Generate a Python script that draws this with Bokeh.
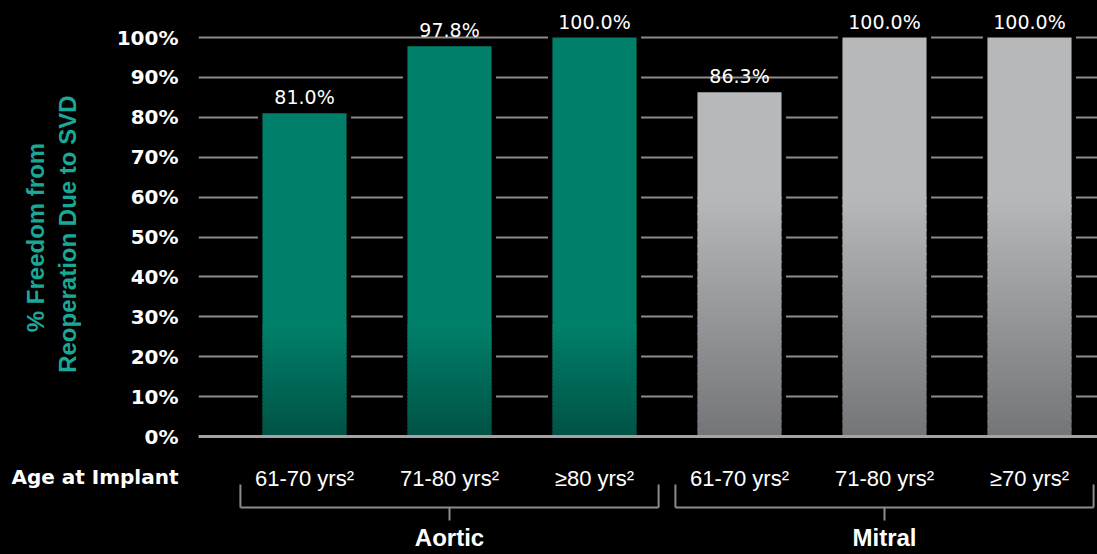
from bokeh.plotting import figure
from bokeh.models import Range1d, FixedTicker, PrintfTickFormatter, Span
from bokeh.core.properties import value
from bokeh.embed import file_html
from bokeh.resources import INLINE

# ---------------- data ----------------
groups = ["Aortic", "Mitral"]
bar_group = ["Aortic", "Aortic", "Aortic", "Mitral", "Mitral", "Mitral"]
age_labels = ["61-70 yrs²", "71-80 yrs²", "≥80 yrs²", "61-70 yrs²", "71-80 yrs²", "≥70 yrs²"]
freedom = [81.0, 97.8, 100.0, 86.3, 100.0, 100.0]
value_labels = ["81.0%", "97.8%", "100.0%", "86.3%", "100.0%", "100.0%"]
y_ticks = [0, 10, 20, 30, 40, 50, 60, 70, 80, 90, 100]
y_title = ["% Freedom from", "Reoperation Due to SVD"]
x_title = "Age at Implant"

# ---------------- layout helpers (canvas pixels -> data units) ----------------
PX_X, X0 = 145.0, 304.0      # px per category, x of first bar centre
PX_Y, Y0 = 3.99, 436.0       # px per percent, y of 0%
def dx(px):
    return (px - X0) / PX_X
def dy(py):
    return (Y0 - py) / PX_Y

W, H = 1097, 554
LEFT = 198
AGE_Y = -10.25               # row of the "Age at Implant" caption
NB = "\u00a0"                # non-breaking pad that lifts the centred axis title

p = figure(width=W, height=H, output_backend="svg", toolbar_location=None,
           x_range=Range1d(dx(LEFT), dx(W)),
           y_range=Range1d(dy(H), dy(0)),
           x_axis_location=None,
           background_fill_color="black", border_fill_color="black",
           min_border_left=LEFT, min_border_right=0, min_border_top=0, min_border_bottom=0)
p.outline_line_color = None
p.styles = {"background-color": "black"}

ax = p.yaxis[0]
ax.ticker = FixedTicker(ticks=y_ticks + [AGE_Y])
ax.formatter = PrintfTickFormatter(format="%d%%")
ax.major_label_overrides = {AGE_Y: x_title}
ax.axis_line_color = None
ax.major_tick_line_color = None
ax.minor_tick_line_color = None
ax.major_tick_out = 0
ax.major_tick_in = 0
ax.major_label_standoff = 20
ax.major_label_text_font = "DejaVu Sans"
ax.major_label_text_font_style = "bold"
ax.major_label_text_font_size = "20px"
ax.major_label_text_color = "white"
ax.axis_label = NB * 12 + y_title[0] + "\n" + NB * 13 + y_title[1]
ax.axis_label_text_font = "Liberation Sans"
ax.axis_label_text_font_style = "bold"
ax.axis_label_text_font_size = "24px"
ax.axis_label_text_color = "#1aa898"
ax.axis_label_standoff = -73

for g in p.xgrid:
    g.visible = False
p.ygrid.ticker = FixedTicker(ticks=y_ticks)
p.ygrid.grid_line_color = "#8c8c8c"
p.ygrid.grid_line_width = 2

# ---------------- bars ----------------
BAR_W = 0.58
GAP = 0.031
xs = list(range(len(freedom)))

# black backing that breaks the gridlines around each bar
p.quad(left=[x - BAR_W / 2 - GAP for x in xs], right=[x + BAR_W / 2 + GAP for x in xs],
       bottom=[0] * len(xs), top=[v + 0.5 for v in freedom],
       fill_color="black", line_color=None)

styles = {
    "Aortic": dict(top=(0, 128, 106), bottom=(0, 82, 69), grad=28.0),
    "Mitral": dict(top=(183, 184, 186), bottom=(116, 117, 120), grad=60.0),
}

def hexc(c):
    return "#%02x%02x%02x" % tuple(int(round(v)) for v in c)

N = 30
L, R, B, T, C = [], [], [], [], []
for x, v, g in zip(xs, freedom, bar_group):
    st = styles[g]
    gtop = min(st["grad"], v)
    if v > gtop:
        L.append(x - BAR_W / 2); R.append(x + BAR_W / 2)
        B.append(gtop - 0.5); T.append(v); C.append(hexc(st["top"]))
    for k in range(N - 1, -1, -1):
        b0 = gtop * k / N
        b1 = gtop * (k + 1) / N
        f = (k + 0.5) / N * gtop / st["grad"]
        col = [st["bottom"][j] + (st["top"][j] - st["bottom"][j]) * f for j in range(3)]
        L.append(x - BAR_W / 2); R.append(x + BAR_W / 2)
        B.append(max(b0 - 0.5, 0)); T.append(min(b1, v)); C.append(hexc(col))
p.quad(left=L, right=R, bottom=B, top=T, fill_color=C, line_color=None)

# value labels
p.text(x=xs, y=freedom, text=value_labels, y_offset=-16,
       text_font=value("DejaVu Sans"), text_font_size="19px", text_color="white",
       text_align="center", text_baseline="middle")

# baseline
p.add_layout(Span(location=0, dimension="width", line_color="#a3a3a3", line_width=3))

# category labels
p.text(x=xs, y=[dy(478)] * len(xs), text=age_labels,
       text_font=value("Liberation Sans"), text_font_size="22px", text_color="white",
       text_align="center", text_baseline="middle")

# group brackets
PAD = 0.442
hx0, hx1, vx, vy0, vy1, centers = [], [], [], [], [], []
for g in groups:
    idx = [i for i, bg in enumerate(bar_group) if bg == g]
    a, b = idx[0] - PAD, idx[-1] + PAD
    c = (a + b) / 2
    centers.append(c)
    hx0.append(a); hx1.append(b)
    for xx, y_a, y_b in ((a, dy(484), dy(507)), (b, dy(484), dy(507)), (c, dy(507), dy(520))):
        vx.append(xx); vy0.append(y_a); vy1.append(y_b)
p.segment(x0=hx0, y0=[dy(507)] * len(hx0), x1=hx1, y1=[dy(507)] * len(hx0),
          line_color="#8c8c8c", line_width=2)
p.segment(x0=vx, y0=vy0, x1=vx, y1=vy1, line_color="#8c8c8c", line_width=2)

p.text(x=centers, y=[dy(537)] * len(centers), text=groups,
       text_font=value("Liberation Sans"), text_font_style="bold",
       text_font_size="24px", text_color="white",
       text_align="center", text_baseline="middle")

open("out.html", "w").write(file_html(p, INLINE))
